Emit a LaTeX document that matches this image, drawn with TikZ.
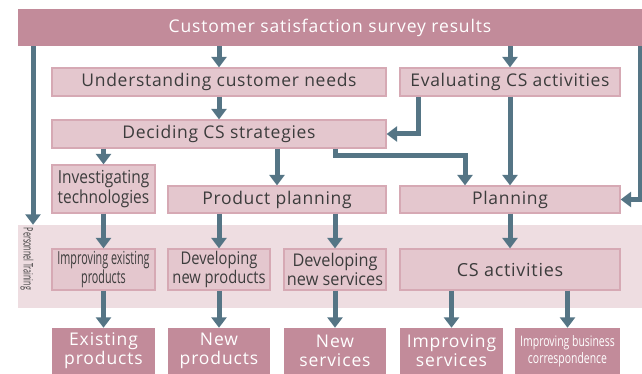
\documentclass[tikz,border=0pt]{standalone}
\usepackage{fontspec}
\setmainfont{Open Sans}
\usetikzlibrary{arrows.meta}

\definecolor{darkrose}{HTML}{C28B9A}
\definecolor{lightrose}{HTML}{E4C7CE}
\definecolor{roseline}{HTML}{D6A9B4}
\definecolor{bandrose}{HTML}{EEDDE1}
\definecolor{arrowblue}{HTML}{557585}
\definecolor{textgray}{HTML}{3C3C3C}

% condensed face: stretch, size, leading
\newcommand{\squeeze}[3]{\fontspec[FakeStretch=#1]{Open Sans}\fontsize{#2}{#3}\selectfont}
\newcommand{\boxfont}{\addfontfeature{LetterSpace=4}\fontsize{17.5}{19}\selectfont}

\begin{document}
\begin{tikzpicture}[x=1pt,y=-1pt,
    box/.style={fill=lightrose,draw=roseline,line width=1.2pt,text=textgray,
        inner sep=0pt,align=center,font=\boxfont},
    darkbox/.style={fill=darkrose,text=white,inner sep=0pt,align=center,
        font=\addfontfeature{LetterSpace=5}\fontsize{17.5}{19}\selectfont},
    arr/.style={draw=arrowblue,line width=5pt,-{Triangle[width=15pt,length=10.5pt]}}]

    \useasboundingbox (0,0) rectangle (642,374);

    % Personnel training band
    \node[fill=bandrose,minimum width=624pt,minimum height=83pt,inner sep=0pt] (band) at (330,266.5) {};
    \node[rotate=-90,text=textgray,font=\squeeze{0.55}{13}{14}] (train) at (27,259) {Personnel Training};

    % Top bar
    \node[darkbox,minimum width=624pt,minimum height=37pt] (top) at (330,27.5) {Customer satisfaction survey results};

    % Planning levels
    \node[box,minimum width=334pt,minimum height=28pt] (und) at (219,82) {Understanding customer needs};
    \node[box,minimum width=220pt,minimum height=28pt] (eval) at (510,82) {Evaluating CS activities};
    \node[box,minimum width=334pt,minimum height=28pt] (decide) at (219,134) {Deciding CS strategies};
    \node[box,minimum width=103pt,minimum height=48pt,font=\squeeze{0.86}{18}{20}] (invest) at (103.5,189) {Investigating\\technologies};
    \node[box,minimum width=218pt,minimum height=27pt] (prodplan) at (277,199.5) {Product planning};
    \node[box,minimum width=220pt,minimum height=27pt] (plan) at (510,199.5) {Planning};

    % Activities
    \node[box,minimum width=103pt,minimum height=41pt,font=\squeeze{0.6}{18}{19}] (impexist) at (103.5,269.5) {Improving existing\\products};
    \node[box,minimum width=102pt,minimum height=41pt,font=\squeeze{0.84}{17.5}{19}] (devprod) at (219,269.5) {Developing\\new products};
    \node[box,minimum width=102pt,minimum height=41pt,font=\squeeze{0.93}{17.5}{19}] (devserv) at (335,269.5) {Developing\\new services};
    \node[box,minimum width=220pt,minimum height=41pt,font=\addfontfeature{LetterSpace=4}\fontsize{18}{19}\selectfont] (csact) at (510,269.5) {CS activities};

    % Results
    \node[darkbox,minimum width=103pt,minimum height=46pt] (exist) at (103.5,351) {Existing\\products};
    \node[darkbox,minimum width=102pt,minimum height=46pt] (newprod) at (219,351) {New\\products};
    \node[darkbox,minimum width=102pt,minimum height=46pt] (newserv) at (335,351) {New\\services};
    \node[darkbox,minimum width=103pt,minimum height=46pt] (impserv) at (451.5,351) {Improving\\services};
    \node[darkbox,minimum width=105pt,minimum height=46pt,font=\squeeze{0.72}{14.5}{17}] (impcorr) at (567.5,351) {Improving business\\correspondence};

    % Connector positions
    \coordinate (lft) at (33,0);
    \coordinate (rgt) at (640,0);
    \coordinate (evx) at (418,0);
    \coordinate (dpx) at (335,0);
    \coordinate (ppx) at (465,0);

    % Arrows
    \draw[arr] (top.south -| und.north) -- (und.north);
    \draw[arr] (top.south -| eval.north) -- (eval.north);
    \draw[arr] (top.south -| lft) -- (band.north -| lft);
    \draw[arr] (top.south -| rgt) |- (plan.east);
    \draw[arr] (und.south) -- (decide.north);
    \draw[arr] (eval.south -| evx) |- (decide.east);
    \draw[arr] (eval.south) -- (plan.north);
    \draw[arr] (decide.south -| invest.north) -- (invest.north);
    \draw[arr] (decide.south -| prodplan.north) -- (prodplan.north);
    \draw[arr] (decide.south -| dpx) -- ++(0,7) -| (plan.north -| ppx);
    \draw[arr] (invest.south) -- (impexist.north);
    \draw[arr] (prodplan.south -| devprod.north) -- (devprod.north);
    \draw[arr] (prodplan.south -| devserv.north) -- (devserv.north);
    \draw[arr] (plan.south) -- (csact.north);
    \draw[arr] (impexist.south) -- (exist.north);
    \draw[arr] (devprod.south) -- (newprod.north);
    \draw[arr] (devserv.south) -- (newserv.north);
    \draw[arr] (csact.south -| impserv.north) -- (impserv.north);
    \draw[arr] (csact.south -| impcorr.north) -- (impcorr.north);
\end{tikzpicture}
\end{document}
